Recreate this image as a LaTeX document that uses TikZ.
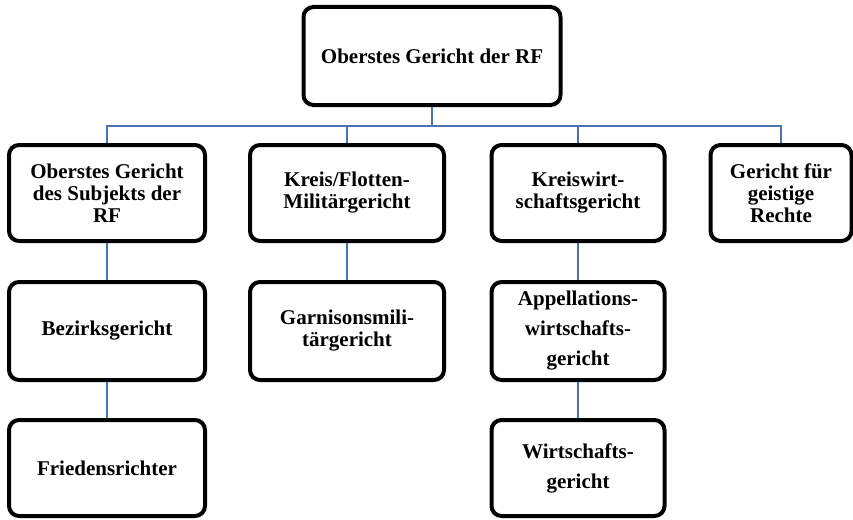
\documentclass[tikz,border=0pt]{standalone}
\usepackage{fontspec}
\setmainfont{Liberation Serif}
\usepackage{xcolor}
\definecolor{linkblue}{HTML}{4A72B0}
\usepackage{tikz}
\usetikzlibrary{positioning}

\begin{document}
\begin{tikzpicture}[x=1pt, y=-1pt,
      court/.style={draw, line width=4pt, rounded corners=10pt, align=center, inner sep=2pt, font=\fontsize{21}{22}\selectfont\bfseries},
      wide/.style={font=\fontsize{21}{30}\selectfont\bfseries},
      link/.style={draw=linkblue, line width=1.5pt}
    ]
    \useasboundingbox (0,0) rectangle (853,519);
    \node[court, minimum width=257pt, minimum height=98pt] (rf) at (432,56) {Oberstes Gericht der RF};
    \node[court, minimum width=196pt, minimum height=96pt] (sub) at (107,193) {Oberstes Gericht\\des Subjekts der\\RF};
    \node[court, minimum width=194pt, minimum height=96pt] (mil) at (347,193) {Kreis/Flotten-\\Militärgericht};
    \node[court, minimum width=173pt, minimum height=96pt] (wirt) at (578,193) {Kreiswirt-\\schaftsgericht};
    \node[court, minimum width=141pt, minimum height=96pt] (geist) at (781,193) {Gericht für\\geistige\\Rechte};
    \node[court, minimum width=196pt, minimum height=98pt] (bez) at (107,331) {Bezirksgericht};
    \node[court, minimum width=194pt, minimum height=98pt] (garn) at (347,331) {Garnisonsmili-\\tärgericht};
    \node[court, wide, minimum width=173pt, minimum height=98pt] (app) at (578,331) {Appellations-\\wirtschafts-\\gericht};
    \node[court, minimum width=196pt, minimum height=96pt] (fried) at (107,468) {Friedensrichter};
    \node[court, wide, minimum width=173pt, minimum height=96pt] (wsg) at (578,468) {Wirtschafts-\\gericht};
    \foreach \c in {sub,mil,wirt,geist} { \draw[link] (rf.south) -- ++(0,19) -| (\c.north); }
    \foreach \a/\b in {sub/bez,bez/fried,mil/garn,wirt/app,app/wsg} { \draw[link] (\a) -- (\b); }
  \end{tikzpicture}
\end{document}
